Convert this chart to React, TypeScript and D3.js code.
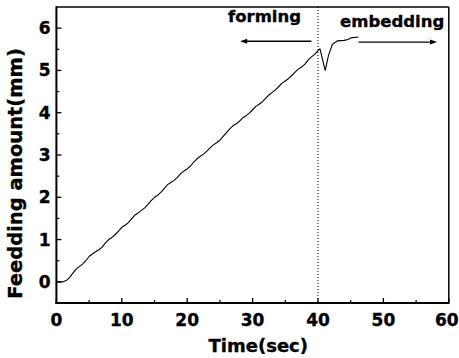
import React from "react";
import * as d3 from "d3";

const timeSec = [0, 1, 1.5, 2, 2.5, 3, 3.5, 4, 4.5, 5, 5.5, 6, 6.5, 7, 7.5, 8, 8.5, 9, 9.5, 10, 10.5, 11, 11.5, 12, 12.5, 13, 13.5, 14, 14.5, 15, 15.5, 16, 16.5, 17, 17.5, 18, 18.5, 19, 19.5, 20, 20.5, 21, 21.5, 22, 22.5, 23, 23.5, 24, 24.5, 25, 25.5, 26, 26.5, 27, 27.5, 28, 28.5, 29, 29.5, 30, 30.5, 31, 31.5, 32, 32.5, 33, 33.5, 34, 34.5, 35, 35.5, 36, 36.5, 37, 37.5, 38, 38.5, 39, 39.5, 40, 40.3, 41.1, 41.6, 42.2, 43, 44, 44.6, 45, 46.2];
const feedMm = [0, 0, 0.03, 0.1, 0.2, 0.3, 0.36, 0.42, 0.5, 0.6, 0.66, 0.71, 0.76, 0.82, 0.92, 1.0, 1.05, 1.12, 1.2, 1.29, 1.34, 1.4, 1.49, 1.58, 1.63, 1.69, 1.75, 1.83, 1.92, 2.0, 2.05, 2.12, 2.21, 2.3, 2.35, 2.4, 2.47, 2.56, 2.62, 2.67, 2.74, 2.83, 2.91, 2.97, 3.02, 3.09, 3.17, 3.24, 3.29, 3.35, 3.44, 3.53, 3.62, 3.69, 3.74, 3.8, 3.88, 3.93, 3.99, 4.07, 4.15, 4.2, 4.26, 4.34, 4.42, 4.48, 4.54, 4.62, 4.7, 4.75, 4.81, 4.88, 4.96, 5.03, 5.08, 5.15, 5.25, 5.32, 5.38, 5.47, 5.51, 5.0, 5.35, 5.62, 5.7, 5.71, 5.73, 5.77, 5.79];

const xTicks = [0, 10, 20, 30, 40, 50, 60];
const xMinor = [5, 15, 25, 35, 45, 55];
const yTicks = [0, 1, 2, 3, 4, 5, 6];
const yMinor = [0.5, 1.5, 2.5, 3.5, 4.5, 5.5];

const dividerX = 40;
const formingArrow = { from: 39, to: 28.1, y: 5.69 };
const embeddingArrow = { from: 46.2, to: 58.2, y: 5.67 };

const FONT = "'DejaVu Sans', sans-serif";

export default function App() {
  const W = 459, H = 358;
  const L = 56.4, R = 448.8, T = 7, B = 303;
  const x = d3.scaleLinear().domain([0, 60]).range([L, R]);
  const y = d3.scaleLinear().domain([-0.5, 6.5]).range([B, T]);
  const line = d3.line<number>().x((_, i) => x(timeSec[i])).y((d) => y(d)).curve(d3.curveLinear);
  const pathD = line(feedMm) || "";

  const arrow = (a: { from: number; to: number; y: number }) => {
    const x1 = x(a.from), x2 = x(a.to), yy = y(a.y);
    const dir = x2 > x1 ? 1 : -1;
    const head = `M${x2},${yy} L${x2 - dir * 7},${yy - 2.5} L${x2 - dir * 7},${yy + 2.5} Z`;
    return (
      <g>
        <line x1={x1} x2={x2 - dir * 5} y1={yy} y2={yy} stroke="#000" strokeWidth={1.3} />
        <path d={head} fill="#000" />
      </g>
    );
  };

  const txt = { fontFamily: FONT, fontWeight: "bold" as const, stroke: "#000", strokeWidth: 0.35 };

  return (
    <svg width={W} height={H} style={{ position: "absolute", left: 0, top: 0, background: "#fff" }}>
      <rect x={0} y={0} width={W} height={H} fill="#fff" />
      <line x1={x(dividerX)} x2={x(dividerX)} y1={T} y2={B} stroke="#000" strokeWidth={1} strokeDasharray="1,2" />
      <path d={pathD} fill="none" stroke="#000" strokeWidth={1.1} strokeLinejoin="round" />
      <line x1={L} x2={R} y1={T} y2={T} stroke="#000" strokeWidth={1.5} />
      <line x1={R} x2={R} y1={T} y2={B} stroke="#000" strokeWidth={1.5} />
      <line x1={L} x2={L} y1={T - 0.75} y2={B + 1} stroke="#000" strokeWidth={2} />
      <line x1={L - 1} x2={R + 0.75} y1={B} y2={B} stroke="#000" strokeWidth={2} />
      {xTicks.map((t) => (
        <line key={"xt" + t} x1={x(t)} x2={x(t)} y1={B} y2={B - 5} stroke="#000" strokeWidth={1.3} />
      ))}
      {xMinor.map((t) => (
        <line key={"xm" + t} x1={x(t)} x2={x(t)} y1={B} y2={B - 3} stroke="#000" strokeWidth={1.2} />
      ))}
      {yTicks.map((t) => (
        <line key={"yt" + t} x1={L} x2={L + 5} y1={y(t)} y2={y(t)} stroke="#000" strokeWidth={1.3} />
      ))}
      {yMinor.map((t) => (
        <line key={"ym" + t} x1={L} x2={L + 3} y1={y(t)} y2={y(t)} stroke="#000" strokeWidth={1.2} />
      ))}
      {xTicks.map((t) => (
        <text key={"xl" + t} x={t === 60 ? x(t) - 2 : x(t)} y={326} textAnchor="middle" fontSize={17} {...txt}>
          {t}
        </text>
      ))}
      {yTicks.map((t) => (
        <text key={"yl" + t} x={50.5} y={y(t) + 6} textAnchor="end" fontSize={17} {...txt}>
          {t}
        </text>
      ))}
      <text x={258.3} y={351.5} textAnchor="middle" fontSize={18} {...txt}>
        Time(sec)
      </text>
      <text transform={`translate(21.5,173.5) rotate(-90)`} textAnchor="middle" fontSize={19.5} {...txt}>
        Feedding amount(mm)
      </text>
      <text x={228} y={22} fontSize={16.5} {...txt}>
        forming
      </text>
      <text x={340} y={26.5} fontSize={16.5} {...txt}>
        embedding
      </text>
      {arrow(formingArrow)}
      {arrow(embeddingArrow)}
    </svg>
  );
}
